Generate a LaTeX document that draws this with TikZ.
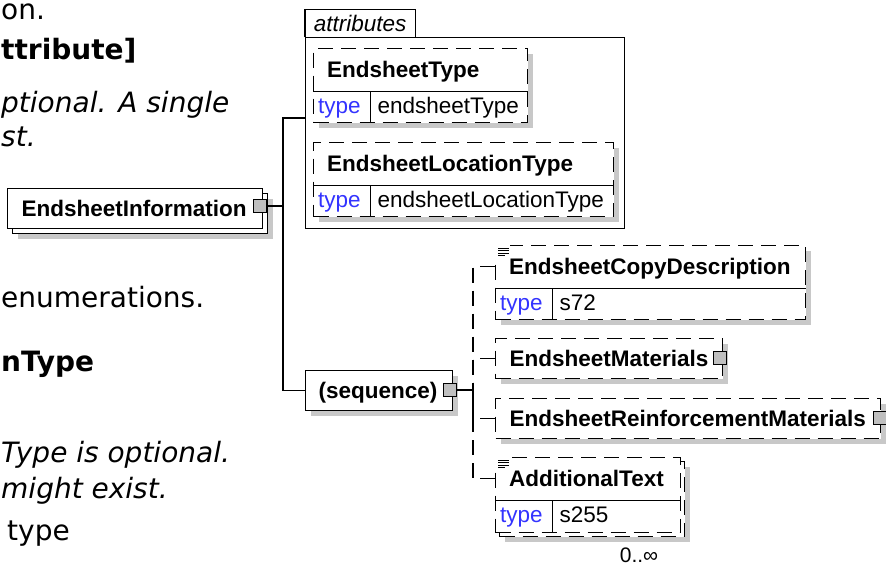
\documentclass[tikz,border=0pt]{standalone}
\usepackage{fontspec}
\setmainfont{Liberation Sans}
\newfontfamily\docfont{DejaVu Sans}
\usepackage{xcolor}
\usetikzlibrary{shadows}
\definecolor{typeblue}{RGB}{51,51,255}
\definecolor{shadowgray}{RGB}{200,200,200}
\tikzset{
  conn/.style={line width=1.2pt},
  optconn/.style={line width=1.2pt, dash pattern=on 15pt off 8pt},
  elembox/.style={draw, line width=1.2pt, fill=white, anchor=north west, inner xsep=14pt, inner ysep=0pt,
    text height=18pt, text depth=2pt, align=left, font=\fontsize{22.5}{26}\selectfont\bfseries},
  optbox/.style={elembox, dash pattern=on 15pt off 8pt},
  withshadow/.style={drop shadow={shadow xshift=5pt, shadow yshift=-5pt, fill=shadowgray, opacity=1}},
  namerow/.style={anchor=north west, inner xsep=14pt, inner ysep=0pt, minimum height=43pt,
    text height=18pt, text depth=2pt, font=\fontsize{22.5}{26}\selectfont\bfseries},
  typetag/.style={anchor=north west, inner xsep=5pt, inner ysep=0pt, text width=47pt, minimum height=31pt,
    text height=16pt, text depth=4pt, align=left, text=typeblue, font=\fontsize{22.5}{26}\selectfont},
  typeval/.style={anchor=north west, inner xsep=7pt, inner ysep=0pt, minimum height=31pt,
    text height=16pt, text depth=4pt, font=\fontsize{22.5}{26}\selectfont},
  expander/.style={draw, line width=1pt, fill=gray!50, minimum size=13pt, inner sep=0pt},
  doctext/.style={anchor=base west, inner sep=0pt, font=\docfont\fontsize{28}{33}\selectfont},
  docbold/.style={anchor=base west, inner sep=0pt, font=\docfont\bfseries\fontsize{28}{33}\selectfont},
  docitalic/.style={anchor=base west, inner sep=0pt, font=\docfont\itshape\fontsize{28}{33}\selectfont}
}
\begin{document}
\begin{tikzpicture}[x=1pt, y=-1pt]
\useasboundingbox (0,0) rectangle (886,565);
\clip (0,0) rectangle (886,565);

% text of the page behind the diagram
\node[doctext, text height=15pt] (on) at (1,19) {on.};
\node[docbold] (attrhead) at (1,59) {ttribute]};
\node[docitalic] (opta) at (1,112) {ptional. A single};
\node[docitalic] (optb) at (1,146) {st.};
\node[doctext] (enum) at (1,307) {enumerations.};
\node[docbold] (typehead) at (1,371) {nType};
\node[docitalic] (optc) at (1,462) {Type is optional.};
\node[docitalic] (optd) at (1,498) {might exist.};
\node[doctext] (typeword) at (7,540) {type};

% root element
\node[elembox, withshadow, minimum width=255pt, minimum height=40pt] (infoback) at (12,193) {};
\node[elembox, text width=227pt, minimum height=40pt] (info) at (7,188) {EndsheetInformation};
\node[expander] (infox) at (260,206) {};

% attributes
\node[draw, line width=1.2pt, anchor=north west, minimum width=319pt, minimum height=191pt] (attrs) at (305,37) {};
\node[anchor=south west, minimum width=110pt, minimum height=27pt, inner sep=0pt, text height=18pt, text depth=2pt,
  font=\fontsize{22.5}{26}\selectfont\itshape] (attrtab) at (attrs.north west) {attributes};
\draw[conn] (attrtab.south west) -- (attrtab.north west) -- (attrtab.north east) -- (attrtab.south east);

\node[optbox, withshadow, minimum width=214pt, minimum height=74pt] (etype) at (313,48) {};
\node[namerow] (etypen) at (etype.north west) {EndsheetType};
\node[typetag] (etypet) at (etypen.south west) {type};
\node[typeval] (etypev) at (etypet.north east) {endsheetType};
\draw[conn] (etypen.south west) -- (etypen.south -| etype.east) (etypet.north east) -- (etypet.south east);

\node[optbox, withshadow, minimum width=300pt, minimum height=74pt] (eloc) at (313,142) {};
\node[namerow] (elocn) at (eloc.north west) {EndsheetLocationType};
\node[typetag] (eloct) at (elocn.south west) {type};
\node[typeval] (elocv) at (eloct.north east) {endsheetLocationType};
\draw[conn] (elocn.south west) -- (elocn.south -| eloc.east) (eloct.north east) -- (eloct.south east);

% sequence
\node[elembox, withshadow, text width=121pt, minimum height=40pt, inner xsep=13pt] (seq) at (305,370) {(sequence)};
\node[expander] (seqx) at (450,390) {};

% children of the sequence
\node[optbox, withshadow, minimum width=310pt, minimum height=74pt] (copy) at (495,245) {};
\node[namerow] (copyn) at (copy.north west) {EndsheetCopyDescription};
\node[typetag] (copyt) at (copyn.south west) {type};
\node[typeval] (copyv) at (copyt.north east) {s72};
\draw[conn] (copyn.south west) -- (copyn.south -| copy.east) (copyt.north east) -- (copyt.south east);
\fill[white] ([shift={(-1,-1)}]copy.north west) rectangle ++(16,13);
\foreach \k/\len in {0/11,1/11,2/11,3/7}
  \draw[line width=0.8pt] ([shift={(3,3+2.6*\k)}]copy.north west) -- ++(\len,0);

\node[optbox, withshadow, text width=199pt, minimum height=40pt] (mat) at (495,338) {EndsheetMaterials};
\node[expander] (matx) at (720,358) {};

\node[optbox, withshadow, text width=357pt, minimum height=40pt] (rei) at (495,398) {EndsheetReinforcementMaterials};
\node[expander] (reix) at (880,418) {};

\node[optbox, withshadow, minimum width=185pt, minimum height=75pt] (addback) at (499,461) {};
\node[optbox, minimum width=185pt, minimum height=75pt] (add) at (495,457) {};
\node[namerow] (addn) at (add.north west) {AdditionalText};
\node[typetag] (addt) at (addn.south west) {type};
\node[typeval] (addv) at (addt.north east) {s255};
\draw[conn] (addn.south west) -- (addn.south -| add.east) (addt.north east) -- (addt.south east);
\fill[white] ([shift={(-1,-1)}]add.north west) rectangle ++(16,13);
\foreach \k/\len in {0/11,1/11,2/11,3/7}
  \draw[line width=0.8pt] ([shift={(3,3+2.6*\k)}]add.north west) -- ++(\len,0);
\node[anchor=base, inner sep=0pt, font=\fontsize{21}{24}\selectfont] (addocc) at (639,562) {0..∞};

% connectors
\coordinate (jinfo) at (283,206);
\coordinate (attrin) at (305,118);
\coordinate (jseq) at (473,390);
\draw[conn] (infox.east) -- (jinfo);
\draw[conn] (attrin) -| (jinfo) |- (seq.west);
\draw[conn] (seqx.east) -- (jseq);
\draw[optconn] (copyn.west) -| (jseq);
\draw[optconn] (mat.west) -| (jseq);
\draw[optconn] (rei.west) -| (jseq);
\draw[optconn] (addn.west) -| (jseq);
\end{tikzpicture}
\end{document}
